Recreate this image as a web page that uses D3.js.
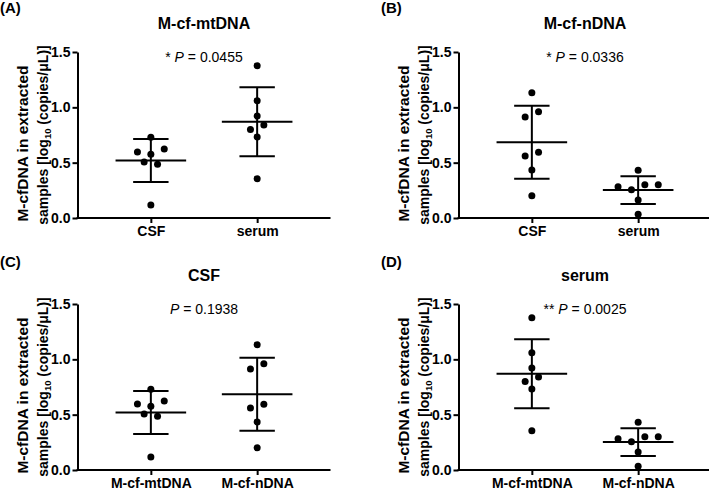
<!DOCTYPE html>
<html><head><meta charset="utf-8">
<script src="https://cdn.jsdelivr.net/npm/d3@7"></script>
<style>
body{margin:0;background:#fff;}
svg{display:block;font-family:"Liberation Sans",Arial,sans-serif;}
</style></head>
<body><svg id="chart" width="709" height="490"></svg>
<script>
// ---- data ----
const mtCSF   = [0.729, 0.596, 0.623, 0.575, 0.506, 0.485, 0.117];
const mtSerum = [1.376, 1.060, 0.921, 0.800, 0.840, 0.732, 0.355];
const nCSF    = [1.132, 0.960, 0.912, 0.593, 0.560, 0.434, 0.200];
const nSerum  = [0.431, 0.283, 0.256, 0.301, 0.301, 0.163, 0.033];
// horizontal scatter slot of each point (in dot-width half steps)
const mtCSFslot   = [0, -2, 2, 0, -1, 1, 0];
const mtSerumSlot = [0, 0, 0, -1, 1, 0, 0];
const nCSFslot    = [0, 1, -1, 1, -1, 0, 0];
const nSerumSlot  = [0, -3, -1, 1, 3, 0, 0];

const panelLetters = ["(A)", "(B)", "(C)", "(D)"];
const panelTitles  = ["M-cf-mtDNA", "M-cf-nDNA", "CSF", "serum"];
const pStars  = ["* ", "* ", "", "** "];
const pValues = ["0.0455", "0.0336", "0.1938", "0.0025"];
const categoriesSample = ["CSF", "serum"];
const categoriesType   = ["M-cf-mtDNA", "M-cf-nDNA"];
const yTicks = [0, 0.5, 1.0, 1.5];

const panels = [
  {cats: categoriesSample, groups: [[mtCSF, mtCSFslot], [mtSerum, mtSerumSlot]]},
  {cats: categoriesSample, groups: [[nCSF, nCSFslot], [nSerum, nSerumSlot]]},
  {cats: categoriesType,   groups: [[mtCSF, mtCSFslot], [nCSF, nCSFslot]]},
  {cats: categoriesType,   groups: [[mtSerum, mtSerumSlot], [nSerum, nSerumSlot]]}
];

// ---- layout ----
const svg = d3.select("#chart");
const origins = [[0,0],[381,0],[0,252],[381,252]];
const plotLeft = 77.5, plotTop = 52, pw = 253, ph = 166;
const slotPx = 6.7;

panels.forEach((p, i) => {
  const g = svg.append("g").attr("transform", `translate(${origins[i][0]},${origins[i][1]})`);
  const x = d3.scalePoint().domain(p.cats).range([0, pw]).padding(0.69);
  const y = d3.scaleLinear().domain([0, 1.5]).range([ph, 0]);

  g.append("text").attr("x", 0).attr("y", i < 2 ? 13 : 15)
    .attr("font-weight", "bold").attr("font-size", 15).text(panelLetters[i]);

  const plot = g.append("g").attr("transform", `translate(${plotLeft},${plotTop})`);

  plot.append("text").attr("x", pw/2).attr("y", -23).attr("text-anchor", "middle")
    .attr("font-weight", "bold").attr("font-size", 16).text(panelTitles[i]);

  const pt = plot.append("text").attr("x", pw/2).attr("y", 10).attr("text-anchor", "middle")
    .attr("font-size", 14);
  pt.append("tspan").text(pStars[i]);
  pt.append("tspan").attr("font-style", "italic").text("P");
  pt.append("tspan").text(" = " + pValues[i]);

  // y axis
  const ya = plot.append("g").call(d3.axisLeft(y).tickValues(yTicks).tickFormat(d3.format(".1f"))
      .tickSize(5).tickSizeOuter(0).tickPadding(2));
  ya.select(".domain").attr("stroke-width", 2);
  ya.selectAll(".tick line").attr("stroke-width", 2);
  ya.selectAll(".tick text").attr("font-size", 14).attr("font-weight", "bold")
    .attr("font-family", "Liberation Sans, Arial, sans-serif").attr("fill", "#000");

  // x axis
  const xa = plot.append("g").attr("transform", `translate(0,${ph})`)
    .call(d3.axisBottom(x).tickSize(5).tickSizeOuter(0).tickPadding(3));
  xa.select(".domain").attr("stroke-width", 2).attr("d", `M-1,0H${pw}`);
  xa.selectAll(".tick line").attr("stroke-width", 2);
  xa.selectAll(".tick text").attr("font-size", 14).attr("font-weight", "bold")
    .attr("font-family", "Liberation Sans, Arial, sans-serif").attr("fill", "#000");

  // y label
  const yl = g.append("g").attr("font-weight", "bold");
  yl.append("text").attr("transform", `translate(28,143.5) rotate(-90)`)
    .attr("font-size", 15.5).attr("text-anchor", "middle").text("M-cfDNA in extracted");
  const t2 = yl.append("text").attr("transform", `translate(47.5,135) rotate(-90)`)
    .attr("font-size", 14).attr("text-anchor", "middle");
  t2.append("tspan").text("samples [log");
  t2.append("tspan").attr("font-size", 9.5).attr("dy", 3).text("10");
  t2.append("tspan").attr("dy", -3).text(" (copies/\u03bcL)]");

  // groups
  p.groups.forEach(([vals, slots], k) => {
    const cx = x(p.cats[k]);
    const m = d3.mean(vals), sd = d3.deviation(vals);
    const eg = plot.append("g").attr("stroke", "#000").attr("stroke-width", 2);
    eg.append("line").attr("x1", cx).attr("x2", cx).attr("y1", y(m + sd)).attr("y2", y(m - sd));
    eg.append("line").attr("x1", cx - 35.3).attr("x2", cx + 35.3).attr("y1", y(m)).attr("y2", y(m));
    [m + sd, m - sd].forEach(v => eg.append("line").attr("x1", cx - 17.7).attr("x2", cx + 17.7)
      .attr("y1", y(v)).attr("y2", y(v)));
    plot.append("g").selectAll("circle").data(vals).join("circle")
      .attr("cx", (d, j) => cx + slots[j] * slotPx).attr("cy", d => y(d))
      .attr("r", 3.5).attr("fill", "#000");
  });
});
</script></body></html>
